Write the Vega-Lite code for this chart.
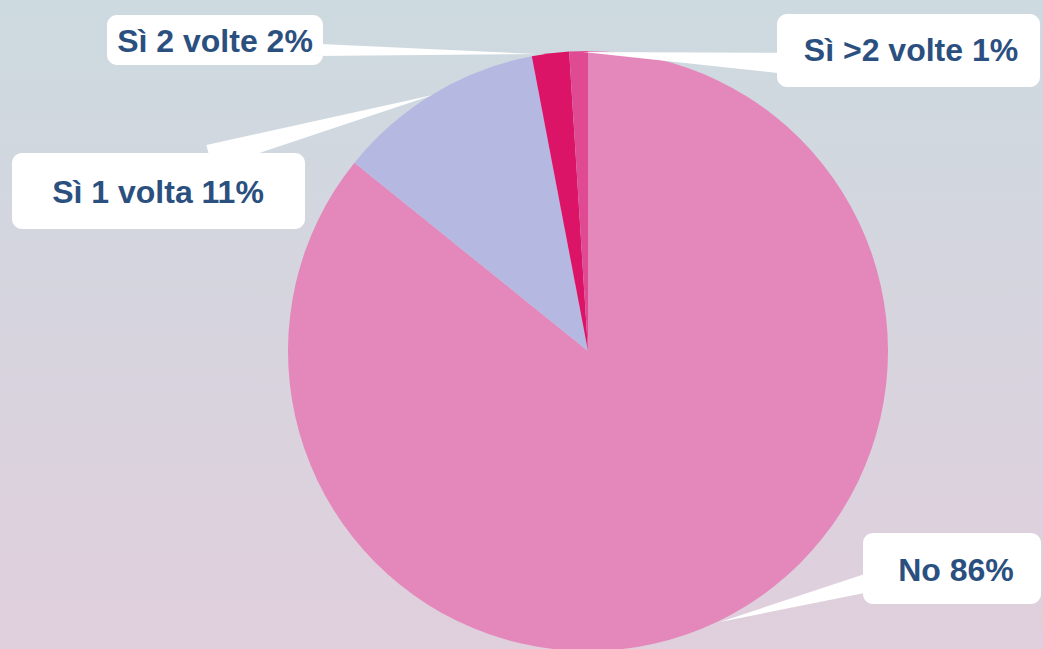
{
  "$schema": "https://vega.github.io/schema/vega-lite/v6.json",
  "width": 1043,
  "height": 649,
  "padding": 0,
  "autosize": "none",
  "background": "#d6d5de",
  "config": {"view": {"stroke": null}},
  "data": {
    "values": [
      {"risposta": "No", "valore": 85.8, "ord": 1, "label": "No 86%"},
      {"risposta": "Sì 1 volta", "valore": 11.2, "ord": 2, "label": "Sì 1 volta 11%"},
      {"risposta": "Sì 2 volte", "valore": 2.0, "ord": 3, "label": "Sì 2 volte 2%"},
      {"risposta": "Sì >2 volte", "valore": 1.0, "ord": 4, "label": "Sì >2 volte 1%"}
    ]
  },
  "layer": [
    {
      "data": {"values": [{}]},
      "mark": {
        "type": "rect",
        "color": {
          "gradient": "linear",
          "x1": 0, "y1": 0, "x2": 0, "y2": 1,
          "stops": [
            {"offset": 0, "color": "#cddae0"},
            {"offset": 1, "color": "#e0cfdc"}
          ]
        }
      },
      "encoding": {}
    },
    {
      "mark": {"type": "arc", "x": 588, "y": 351, "radius": 300, "stroke": null},
      "encoding": {
        "theta": {"field": "valore", "type": "quantitative", "stack": true},
        "order": {"field": "ord", "type": "quantitative"},
        "color": {
          "field": "risposta",
          "type": "nominal",
          "scale": {
            "domain": ["No", "Sì 1 volta", "Sì 2 volte", "Sì >2 volte"],
            "range": ["#e487bb", "#b5b8e1", "#dc1468", "#e04a92"]
          },
          "legend": null
        }
      }
    },
    {
      "transform": [{"filter": "datum.ord == 1"}],
      "mark": {"type": "arc", "x": 720, "y": 622, "radius": 155, "theta": 1.25, "theta2": 1.372, "color": "white"},
      "encoding": {}
    },
    {
      "transform": [{"filter": "datum.ord == 2"}],
      "mark": {"type": "arc", "x": 433, "y": 95, "radius": 232, "theta": 4.39, "theta2": 4.495, "color": "white"},
      "encoding": {}
    },
    {
      "transform": [{"filter": "datum.ord == 3"}],
      "mark": {"type": "arc", "x": 537, "y": 54, "radius": 222, "theta": 4.703, "theta2": 4.759, "color": "white"},
      "encoding": {}
    },
    {
      "transform": [{"filter": "datum.ord == 4"}],
      "mark": {"type": "arc", "x": 583, "y": 52, "radius": 200, "theta": 1.575, "theta2": 1.678, "color": "white"},
      "encoding": {}
    },
    {
      "transform": [{"filter": "datum.ord == 1"}],
      "mark": {"type": "rect", "x": 863, "x2": 1041, "y": 533, "y2": 604, "cornerRadius": 10, "color": "white"},
      "encoding": {}
    },
    {
      "transform": [{"filter": "datum.ord == 2"}],
      "mark": {"type": "rect", "x": 12, "x2": 305, "y": 153, "y2": 229, "cornerRadius": 10, "color": "white"},
      "encoding": {}
    },
    {
      "transform": [{"filter": "datum.ord == 3"}],
      "mark": {"type": "rect", "x": 107, "x2": 323, "y": 15, "y2": 65, "cornerRadius": 10, "color": "white"},
      "encoding": {}
    },
    {
      "transform": [{"filter": "datum.ord == 4"}],
      "mark": {"type": "rect", "x": 777, "x2": 1040, "y": 14, "y2": 87, "cornerRadius": 10, "color": "white"},
      "encoding": {}
    },
    {
      "transform": [{"filter": "datum.ord == 1"}],
      "mark": {"type": "text", "x": 956, "y": 581, "align": "center", "baseline": "alphabetic", "font": "Liberation Sans", "fontWeight": "bold", "fontSize": 32, "color": "#2b5080"},
      "encoding": {"text": {"field": "label"}}
    },
    {
      "transform": [{"filter": "datum.ord == 2"}],
      "mark": {"type": "text", "x": 158, "y": 203, "align": "center", "baseline": "alphabetic", "font": "Liberation Sans", "fontWeight": "bold", "fontSize": 32, "color": "#2b5080"},
      "encoding": {"text": {"field": "label"}}
    },
    {
      "transform": [{"filter": "datum.ord == 3"}],
      "mark": {"type": "text", "x": 215, "y": 52, "align": "center", "baseline": "alphabetic", "font": "Liberation Sans", "fontWeight": "bold", "fontSize": 32, "color": "#2b5080"},
      "encoding": {"text": {"field": "label"}}
    },
    {
      "transform": [{"filter": "datum.ord == 4"}],
      "mark": {"type": "text", "x": 911, "y": 61, "align": "center", "baseline": "alphabetic", "font": "Liberation Sans", "fontWeight": "bold", "fontSize": 32, "color": "#2b5080"},
      "encoding": {"text": {"field": "label"}}
    }
  ]
}
